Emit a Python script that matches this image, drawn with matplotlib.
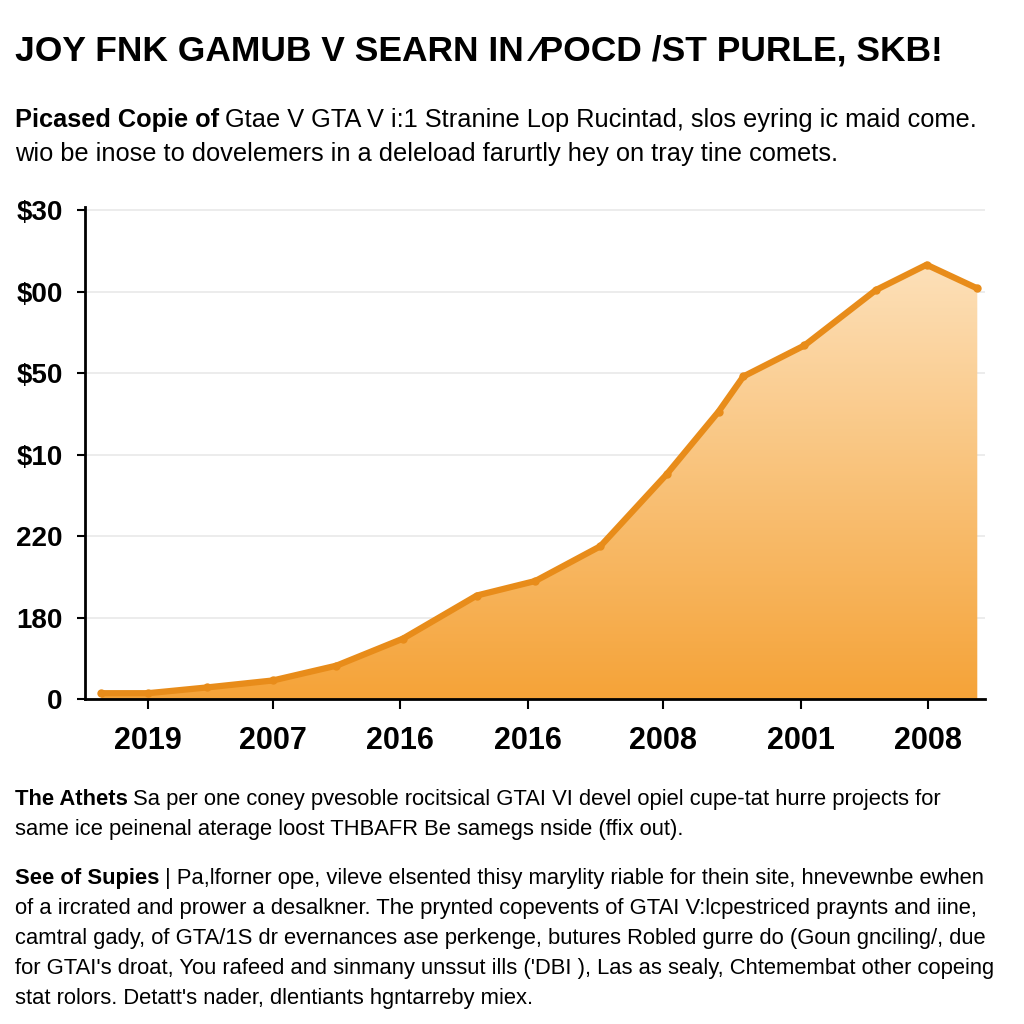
import matplotlib.pyplot as plt
import numpy as np
from matplotlib.colors import LinearSegmentedColormap

plt.rcParams['font.family'] = ['Liberation Sans', 'DejaVu Sans']

title = 'JOY FNK GAMUB V SEARN IN \u2044POCD /ST PURLE, SKB!'
sub_bold = 'Picased Copie of'
sub_lines = ['Gtae V GTA V i:1 Stranine Lop Rucintad, slos eyring ic maid come.',
             'wio be inose to dovelemers in a deleload farurtly hey on tray tine comets.']

# the curve (x in tick steps, y in axis units)
x_vals = [-0.36, 0, 0.45, 0.96, 1.45, 1.96, 2.53, 2.98, 3.48, 3.99, 4.39, 4.58, 5.05, 5.6, 5.99, 6.38]
y_vals = [3.8, 3.8, 7.3, 11.6, 20.7, 37.2, 63.7, 72.6, 93.9, 138, 176.5, 198, 217, 251, 266.5, 252]

x_ticks = [0, 0.96, 1.94, 2.92, 3.96, 5.02, 6.0]
x_labels = ['2019', '2007', '2016', '2016', '2008', '2001', '2008']
y_ticks = [0, 50, 100, 150, 200, 250, 300]
y_labels = ['0', '180', '220', '$10', '$50', '$00', '$30']

para1_bold = 'The Athets'
para1 = ['Sa per one coney pvesoble rocitsical GTAI VI devel opiel cupe-tat hurre projects for',
         'same ice peinenal aterage loost THBAFR Be samegs nside (ffix out).']
para2_bold = 'See of Supies'
para2 = ['| Pa,lforner ope, vileve elsented thisy marylity riable for thein site, hnevewnbe ewhen',
         'of a ircrated and prower a desalkner. The prynted copevents of GTAI V:lcpestriced praynts and iine,',
         'camtral gady, of GTA/1S dr evernances ase perkenge, butures Robled gurre do (Goun gnciling/, due',
         "for GTAI's droat, You rafeed and sinmany unssut ills ('DBI ), Las as sealy, Chtemembat other copeing",
         "stat rolors. Detatt's nader, dlentiants hgntarreby miex."]

fig = plt.figure(figsize=(10.24, 10.24), dpi=100)
ax = fig.add_axes([0.083, 0.317, 0.879, 0.481])

xmin, xmax = -0.485, 6.44
ymax = 302

# gradient fill under the curve
grad = np.linspace(0, 1, 256).reshape(-1, 1)
cmap = LinearSegmentedColormap.from_list('fill', ['#f5a338', '#fde2bd'])
area = ax.fill_between(x_vals, y_vals, 0, facecolor='none', edgecolor='none')
im = ax.imshow(grad, extent=[xmin, xmax, 0, 275], origin='lower', aspect='auto',
               cmap=cmap, zorder=1)
im.set_clip_path(area.get_paths()[0], transform=ax.transData)

ax.plot(x_vals, y_vals, color='#e88c1a', lw=4.5, marker='o', ms=5,
        solid_joinstyle='round', solid_capstyle='round', zorder=3)

ax.set_xlim(xmin, xmax)
ax.set_ylim(0, ymax)
ax.set_xticks(x_ticks)
ax.set_xticklabels(x_labels, fontsize=22, fontweight='bold')
ax.set_yticks(y_ticks)
ax.set_yticklabels(y_labels, fontsize=20, fontweight='bold')
ax.tick_params(axis='x', length=7, width=1.5, pad=12)
ax.tick_params(axis='y', length=6, width=1.5, pad=10)
ax.grid(axis='y', color='#ebebeb', lw=1.3)
ax.set_axisbelow(True)
for s in ['top', 'right']:
    ax.spines[s].set_visible(False)
for s in ['left', 'bottom']:
    ax.spines[s].set_linewidth(2)

# texts
fig.text(0.015, 1 - 48 / 1024, title, fontsize=25.5, fontweight='bold', va='center_baseline')

renderer = fig.canvas.get_renderer()

def lead_line(ypix, bold, rest, size):
    y = 1 - ypix / 1024
    t = fig.text(0.015, y, bold, fontsize=size, fontweight='bold', va='center_baseline')
    bb = t.get_window_extent(renderer)
    fig.text(bb.x1 / fig.bbox.width + 0.005, y, rest, fontsize=size, va='center_baseline')

def plain_line(ypix, text, size):
    fig.text(0.015, 1 - ypix / 1024, text, fontsize=size, va='center_baseline')

lead_line(118, sub_bold, sub_lines[0], 18.3)
plain_line(151, sub_lines[1], 18.3)

lead_line(797, para1_bold, para1[0], 15.8)
plain_line(827, para1[1], 15.8)
lead_line(876, para2_bold, para2[0], 15.8)
for i, line in enumerate(para2[1:]):
    plain_line(906 + 30 * i, line, 15.8)

fig.savefig('out.png', dpi=100, facecolor='white')
